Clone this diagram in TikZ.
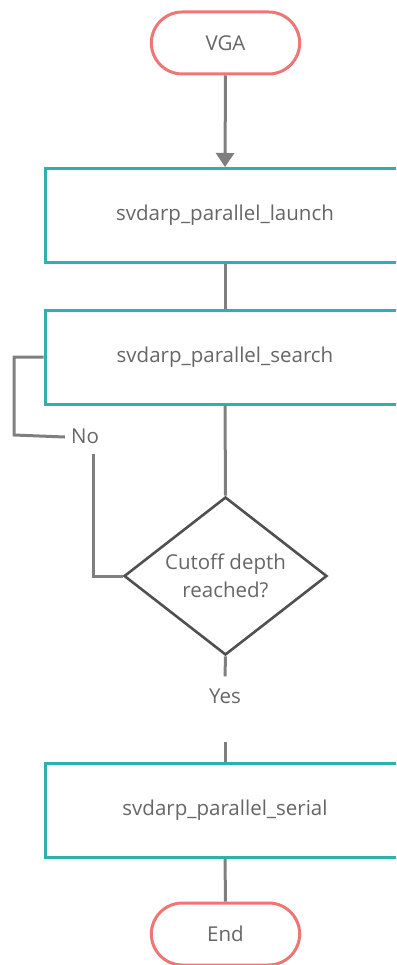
\documentclass[tikz,border=0pt]{standalone}
\usepackage{fontspec}
\setmainfont{Open Sans}
\usetikzlibrary{shapes.geometric,shapes.misc,arrows.meta}
\definecolor{teal}{HTML}{2DB1AA}
\definecolor{term}{HTML}{F07575}
\definecolor{conn}{HTML}{7F7F7F}
\definecolor{dia}{HTML}{505050}
\definecolor{txt}{HTML}{666666}
\tikzset{
  termbox/.style={draw=term, line width=3pt, rounded rectangle, fill=white, minimum width=155pt, minimum height=62pt, text=txt, font=\fontsize{20.5}{24}\selectfont},
  procbox/.style={draw=teal, line width=3pt, rectangle, fill=white, minimum width=360pt, minimum height=94pt, text=txt, font=\fontsize{20.5}{24}\selectfont},
  decbox/.style={draw=dia, line width=2.6pt, diamond, aspect=1.28, minimum width=203pt, minimum height=158pt, inner sep=0pt, text=txt, align=center, font=\fontsize{20.5}{27.5}\selectfont},
  lbl/.style={text=txt, inner sep=0pt, font=\fontsize{20.5}{24}\selectfont},
  conline/.style={draw=conn, line width=3pt},
}
\begin{document}
\begin{tikzpicture}[x=1pt,y=-1pt]
\useasboundingbox (0,0) rectangle (396,965);
\clip (0,0) rectangle (396,965);
\node[termbox] (vga) at (225.5,43) {VGA};
\node[procbox] (b1) at (225,215.5) {svdarp\_parallel\_launch};
\node[procbox] (b2) at (225,357) {svdarp\_parallel\_search};
\node[decbox] (d) at (225.5,576) {Cutoff depth\\reached?};
\node[lbl] (no) at (85,436) {No};
\node[lbl] (yes) at (225,696) {Yes};
\node[procbox] (b3) at (225,810.5) {svdarp\_parallel\_serial};
\node[termbox] (end) at (225.5,934) {End};
\coordinate (nl) at (14,435);
\draw[conline, -{Triangle[length=14pt,width=18pt]}] (vga.south) -- (b1.north);
\draw[conline] (b1.south) -- (b2.north);
\draw[conline] (b2.south) -- (d.north);
\draw[conline] (d.west) -| ([xshift=8pt,yshift=-10pt]no.south);
\draw[conline] ([xshift=-6pt,yshift=-1pt]no.west) -- (nl) |- (b2.west);
\draw[conline] (d.south) -- ([yshift=12pt]yes.north);
\draw[conline] ([yshift=-38pt]yes.south) -- (b3.north);
\draw[conline] (b3.south) -- (end.north);
\end{tikzpicture}
\end{document}
